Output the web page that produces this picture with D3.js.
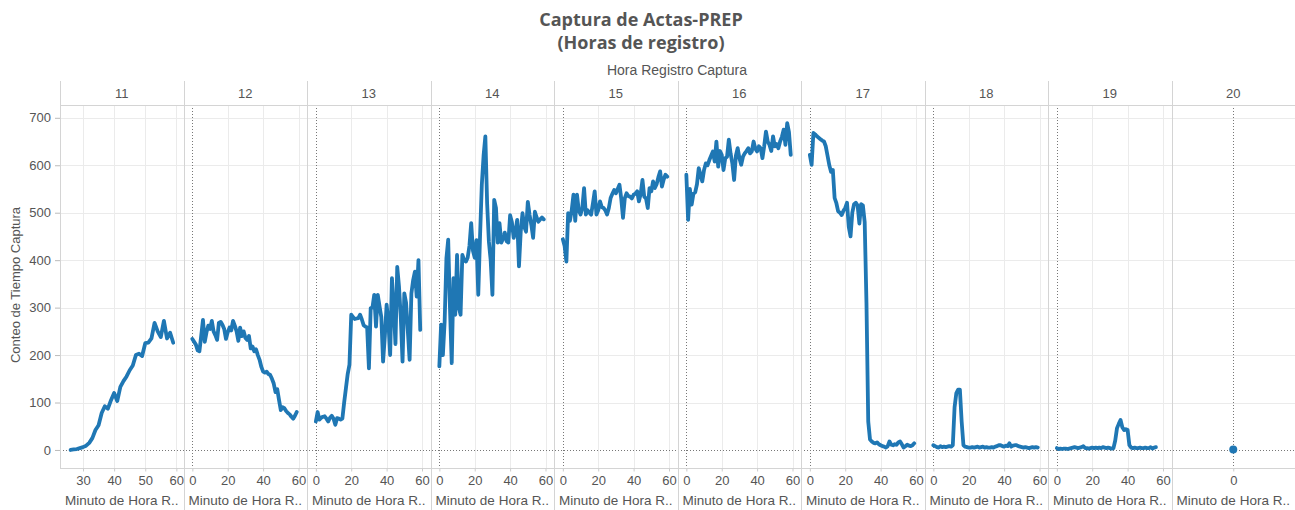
<!DOCTYPE html>
<html>
<head>
<meta charset="utf-8">
<script src="https://cdn.jsdelivr.net/npm/d3@7"></script>
<style>
body { margin: 0; background: #fff; }
svg text { font-family: "Liberation Sans", Arial, sans-serif; fill: #555; }
</style>
</head>
<body>
<script>
// hours shown as column panels, and first minute recorded in each hour
var hours = [11, 12, 13, 14, 15, 16, 17, 18, 19, 20];
var firstMinute = [26, 0, 0, 0, 0, 0, 0, 0, 0, 0];

// count per minute
var counts11 = [0, 1, 2, 4, 6, 9, 15, 25, 42, 52, 78, 92, 87, 105, 120, 103, 133, 145, 155, 168, 178, 200, 203, 198, 225, 226, 235, 268, 250, 238, 272, 235, 247, 226];
var counts12 = [234, 228, 222, 210, 208, 240, 274, 228, 248, 262, 255, 272, 250, 242, 232, 268, 270, 264, 255, 234, 248, 258, 252, 272, 262, 250, 230, 258, 240, 250, 236, 232, 240, 214, 218, 208, 212, 200, 190, 175, 165, 163, 165, 160, 158, 150, 140, 122, 128, 105, 84, 90, 88, 82, 78, 75, 70, 66, 72, 80];
var counts13 = [60, 80, 64, 68, 70, 71, 66, 60, 68, 72, 66, 53, 67, 66, 64, 66, 100, 130, 160, 180, 285, 280, 276, 277, 278, 285, 275, 263, 260, 258, 172, 299, 300, 327, 260, 327, 303, 280, 186, 240, 306, 270, 200, 362, 300, 223, 386, 344, 280, 186, 330, 310, 250, 190, 330, 358, 376, 323, 400, 253];
var counts14 = [176, 264, 200, 271, 404, 443, 300, 183, 362, 285, 411, 300, 285, 411, 400, 397, 405, 430, 478, 420, 405, 442, 327, 450, 559, 620, 661, 520, 439, 400, 327, 527, 510, 437, 478, 437, 445, 458, 440, 437, 495, 480, 447, 460, 485, 387, 460, 499, 470, 460, 523, 495, 474, 447, 502, 490, 481, 486, 490, 486];
var counts15 = [444, 430, 397, 499, 483, 505, 538, 483, 538, 505, 496, 510, 552, 496, 505, 500, 496, 520, 545, 496, 505, 524, 512, 510, 505, 496, 510, 531, 540, 548, 541, 550, 559, 530, 489, 530, 541, 535, 534, 530, 538, 540, 545, 524, 540, 569, 534, 530, 510, 552, 545, 566, 552, 560, 575, 587, 555, 570, 580, 576];
var counts16 = [580, 485, 550, 517, 540, 543, 560, 594, 580, 566, 590, 604, 600, 611, 620, 629, 608, 650, 597, 630, 622, 590, 615, 618, 654, 625, 604, 569, 620, 636, 615, 601, 618, 625, 630, 636, 625, 629, 650, 635, 629, 640, 636, 615, 640, 671, 650, 643, 630, 661, 640, 645, 636, 650, 660, 675, 643, 689, 670, 622];
var counts17 = [622, 601, 668, 665, 661, 658, 655, 652, 650, 640, 620, 600, 586, 590, 531, 520, 503, 500, 495, 504, 510, 521, 470, 450, 500, 518, 521, 515, 477, 518, 515, 480, 310, 60, 22, 18, 15, 14, 16, 12, 10, 8, 7, 5, 8, 18, 11, 10, 12, 11, 16, 18, 12, 5, 8, 11, 9, 8, 10, 14];
var counts18 = [10, 8, 6, 5, 8, 6, 7, 6, 7, 8, 7, 10, 90, 120, 127, 127, 60, 10, 7, 6, 5, 5, 6, 5, 6, 7, 5, 6, 7, 5, 6, 5, 5, 6, 5, 7, 8, 10, 10, 8, 7, 9, 8, 14, 7, 9, 10, 10, 8, 7, 6, 5, 6, 5, 4, 5, 6, 5, 6, 5];
var counts19 = [4, 2, 3, 2, 3, 3, 2, 3, 4, 5, 6, 5, 4, 5, 6, 8, 4, 4, 3, 4, 5, 4, 5, 4, 5, 4, 6, 5, 4, 5, 4, 3, 4, 20, 46, 55, 63, 48, 42, 44, 42, 10, 5, 4, 5, 4, 4, 5, 4, 4, 5, 4, 4, 6, 3, 5, 6];
var counts20 = [1];

var yTicks = [0, 100, 200, 300, 400, 500, 600, 700];
var minuteTicks11 = [30, 40, 50, 60];
var minuteTicks = [0, 20, 40, 60];
var minuteTicks20 = [0];

var allCounts = [counts11, counts12, counts13, counts14, counts15, counts16, counts17, counts18, counts19, counts20];

var width = 1295, height = 510;
var left = 60, right = 1295;
var headerTop = 81, plotTop = 105, plotBottom = 468;
var panelWidth = (right - left) / hours.length;
var blue = '#1f77b4';

var panels = hours.map(function(h, i) {
    var domain = [-5, 64.8], ticks = minuteTicks;
    if (h === 11) { domain = [22.6, 62.3]; ticks = minuteTicks11; }
    if (h === 20) { domain = [-1, 1]; ticks = minuteTicks20; }
    var x0 = left + i * panelWidth;
    return {
        hour: h,
        x0: x0,
        ticks: ticks,
        x: d3.scaleLinear().domain(domain).range([x0, x0 + panelWidth]),
        points: allCounts[i].map(function(v, j) { return { minute: firstMinute[i] + j, count: v }; })
    };
});

var y = d3.scaleLinear().domain([-38, 727]).range([plotBottom, plotTop]);

var svg = d3.select('body').append('svg')
    .attr('width', width)
    .attr('height', height);

// title
svg.append('text').attr('x', 641).attr('y', 26).attr('text-anchor', 'middle')
    .style('font-family', '"Open Sans", sans-serif').style('font-weight', 'bold').style('font-size', '18px')
    .style('fill', '#555').text('Captura de Actas-PREP');
svg.append('text').attr('x', 641).attr('y', 49).attr('text-anchor', 'middle')
    .style('font-family', '"Open Sans", sans-serif').style('font-weight', 'bold').style('font-size', '18px')
    .style('fill', '#555').text('(Horas de registro)');

svg.append('text').attr('x', 677).attr('y', 75).attr('text-anchor', 'middle')
    .style('font-size', '14px').text('Hora Registro Captura');

// horizontal grid
svg.append('g').selectAll('line.hgrid')
    .data(yTicks.filter(function(t) { return t !== 0; }))
    .enter().append('line')
        .attr('x1', left).attr('x2', right)
        .attr('y1', function(d) { return Math.round(y(d)) + 0.5; })
        .attr('y2', function(d) { return Math.round(y(d)) + 0.5; })
        .attr('stroke', '#ebebeb');

// vertical grid and zero lines per panel
panels.forEach(function(p) {
    var g = svg.append('g');
    g.selectAll('line')
        .data(p.ticks.filter(function(t) { return t !== 0; }))
        .enter().append('line')
            .attr('x1', function(d) { return Math.round(p.x(d)) + 0.5; })
            .attr('x2', function(d) { return Math.round(p.x(d)) + 0.5; })
            .attr('y1', plotTop).attr('y2', plotBottom)
            .attr('stroke', '#ebebeb');
    if (p.ticks.indexOf(0) >= 0) {
        g.append('line')
            .attr('x1', Math.round(p.x(0)) + 0.5).attr('x2', Math.round(p.x(0)) + 0.5)
            .attr('y1', plotTop).attr('y2', plotBottom)
            .attr('stroke', '#777').attr('stroke-dasharray', '1,2');
    }
});

svg.append('line')
    .attr('x1', left).attr('x2', right)
    .attr('y1', Math.round(y(0)) + 0.5).attr('y2', Math.round(y(0)) + 0.5)
    .attr('stroke', '#777').attr('stroke-dasharray', '1,2');

// frame lines
svg.append('line').attr('x1', left).attr('x2', right).attr('y1', plotTop + 0.5).attr('y2', plotTop + 0.5).attr('stroke', '#d4d4d4');
svg.append('line').attr('x1', left).attr('x2', right).attr('y1', plotBottom + 0.5).attr('y2', plotBottom + 0.5).attr('stroke', '#d4d4d4');
svg.append('line').attr('x1', left + 0.5).attr('x2', left + 0.5).attr('y1', headerTop).attr('y2', plotBottom).attr('stroke', '#d4d4d4');
svg.append('g').selectAll('line')
    .data(panels.slice(1))
    .enter().append('line')
        .attr('x1', function(p) { return Math.round(p.x0) + 0.5; })
        .attr('x2', function(p) { return Math.round(p.x0) + 0.5; })
        .attr('y1', headerTop).attr('y2', height)
        .attr('stroke', '#d4d4d4');

// panel headers
svg.append('g').selectAll('text')
    .data(panels)
    .enter().append('text')
        .attr('x', function(p) { return p.x0 + panelWidth / 2; })
        .attr('y', 98)
        .attr('text-anchor', 'middle')
        .style('font-size', '13px')
        .text(function(p) { return p.hour; });

// y axis
var yAxis = svg.append('g')
    .attr('transform', 'translate(' + left + ',0)')
    .call(d3.axisLeft(y).tickValues(yTicks).tickSize(5).tickPadding(4));
yAxis.select('.domain').remove();
yAxis.selectAll('line').attr('stroke', '#bbb');
yAxis.selectAll('text').style('font-size', '13px').style('fill', '#555').style('font-family', '"Liberation Sans", Arial, sans-serif');

svg.append('text')
    .attr('transform', 'translate(20,' + 285 + ') rotate(-90)')
    .attr('text-anchor', 'middle')
    .style('font-size', '13px')
    .text('Conteo de Tiempo Captura');

// x axes and lines
panels.forEach(function(p) {
    var ax = svg.append('g')
        .attr('transform', 'translate(0,' + (plotBottom + 0.5) + ')')
        .call(d3.axisBottom(p.x).tickValues(p.ticks).tickSize(3).tickPadding(4).tickFormat(d3.format('d')));
    ax.select('.domain').remove();
    ax.selectAll('line').attr('stroke', '#ccc');
    ax.selectAll('text').style('font-size', '13px').style('fill', '#555').style('font-family', '"Liberation Sans", Arial, sans-serif');

    svg.append('text')
        .attr('x', p.x0 + panelWidth / 2)
        .attr('y', 505)
        .attr('text-anchor', 'middle')
        .style('font-size', '13.5px')
        .text('Minuto de Hora R..');

    if (p.points.length > 1) {
        svg.append('path')
            .datum(p.points)
            .attr('fill', 'none')
            .attr('stroke', blue)
            .attr('stroke-width', 3.8)
            .attr('stroke-linejoin', 'round')
            .attr('stroke-linecap', 'round')
            .attr('d', d3.line()
                .x(function(d) { return p.x(d.minute); })
                .y(function(d) { return y(d.count); }));
    } else {
        svg.append('g').selectAll('circle')
            .data(p.points)
            .enter().append('circle')
                .attr('cx', function(d) { return p.x(d.minute); })
                .attr('cy', function(d) { return y(d.count); })
                .attr('r', 4)
                .attr('fill', blue);
    }
});
</script>
</body>
</html>
